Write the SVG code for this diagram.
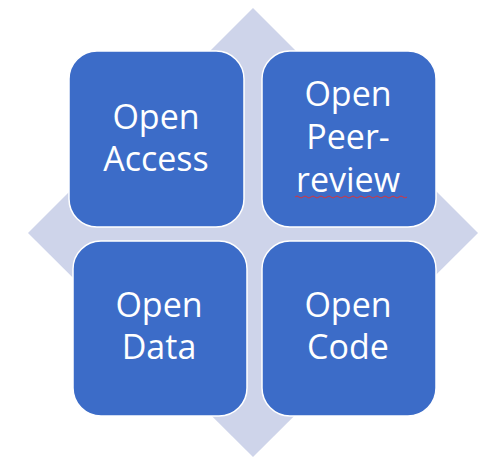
<svg xmlns="http://www.w3.org/2000/svg" width="486" height="457" viewBox="0 0 486 457">
<style>
.box{fill:#3C6CC8;stroke:#FFFFFF;stroke-width:1.5}
.t{fill:#FFFFFF;font-family:"Open Sans","Noto Sans",sans-serif;font-size:34px;text-anchor:middle}
</style>
<rect width="486" height="457" fill="#FFFFFF"/>
<g id="diamond"><polygon points="253,8 478,233 253,457 28,233" fill="#CED4EA"/></g>
<g id="open-access">
<rect class="box" x="69" y="51" width="175" height="176" rx="28"/>
<text class="t" x="156" y="129">Open</text>
<text class="t" x="156" y="171">Access</text>
</g>
<g id="open-peer-review">
<rect class="box" x="262" y="51" width="174" height="176" rx="28"/>
<text class="t" x="348" y="106">Open</text>
<text class="t" x="348" y="149">Peer-</text>
<text class="t" x="348" y="192">review</text>
<path d="M295,197 q2,-2 4,0 t4,0 t4,0 t4,0 t4,0 t4,0 t4,0 t4,0 t4,0 t4,0 t4,0 t4,0 t4,0 t4,0 t4,0 t4,0 t4,0 t4,0 t4,0 t4,0 t4,0 t4,0 t4,0 t4,0 t4,0 t4,0 t4,0 t4,0" fill="none" stroke="#D8343C" stroke-width="1"/>
</g>
<g id="open-data">
<rect class="box" x="73" y="241" width="174" height="175" rx="28"/>
<text class="t" x="159" y="317">Open</text>
<text class="t" x="159" y="359">Data</text>
</g>
<g id="open-code">
<rect class="box" x="262" y="241" width="174" height="175" rx="28"/>
<text class="t" x="348" y="317">Open</text>
<text class="t" x="348" y="359">Code</text>
</g>
<g id="connectors"></g>
</svg>
